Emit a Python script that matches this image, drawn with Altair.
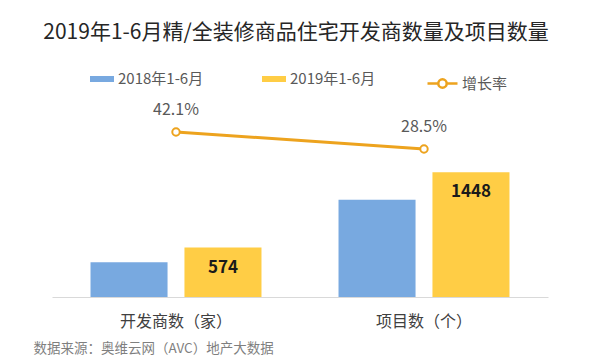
import altair as alt
import pandas as pd

# ---- data ----
categories = ["开发商数（家）", "项目数（个）"]
series = ["2018年1-6月", "2019年1-6月"]
values_2018 = [404, 1127]
values_2019 = [574, 1448]
growth_rates = [0.421, 0.285]
rate_name = "增长率"

title_text = "2019年1-6月精/全装修商品住宅开发商数量及项目数量"
source_text = "数据来源：奥维云网（AVC）地产大数据"

colors = ["#78A9E0", "#FFCD45"]
line_color = "#EDA31E"
FONT = "Noto Sans CJK SC"

rows = []
for i, c in enumerate(categories):
    rows.append({"category": c, "series": series[0], "value": values_2018[i]})
    rows.append({"category": c, "series": series[1], "value": values_2019[i]})
bars_df = pd.DataFrame(rows)
rate_df = pd.DataFrame({"category": categories, "rate": growth_rates, "name": [rate_name] * len(categories)})

x_enc = alt.X(
    "category:N",
    sort=categories,
    scale=alt.Scale(domain=categories, paddingInner=0, paddingOuter=0),
    axis=alt.Axis(
        title=source_text,
        titleFont=FONT,
        titleFontSize=13.5,
        titleFontWeight="normal",
        titleColor="#7F7F7F",
        titleAnchor="start",
        titleAlign="left",
        titleBaseline="middle",
        titleX=-19,
        titleY=51,
        labelFontSize=16,
        labelColor="#404040",
        labelPadding=16,
        labelAngle=0,
        ticks=False,
        domainColor="#D9D9D9",
        domainWidth=1,
        grid=False,
    ),
)
xoff_enc = alt.XOffset("series:N", sort=series, scale=alt.Scale(domain=series, paddingInner=0.18, paddingOuter=0.41))
y_bar_scale = alt.Scale(domain=[0, 2320], nice=False, zero=True)
y_rate_scale = alt.Scale(domain=[-0.899, 0.701], nice=False, zero=False)

bar_legend = alt.Legend(
    orient="none",
    legendX=38,
    legendY=-30,
    direction="horizontal",
    title=None,
    symbolType="M-1,-0.25H1V0.25H-1Z",
    symbolSize=576,
    symbolStrokeWidth=0,
    labelFontSize=15,
    labelFont=FONT,
    labelColor="#595959",
    labelOffset=4,
    columnPadding=58,
)

bars = alt.Chart(bars_df).mark_bar().encode(
    x=x_enc,
    xOffset=xoff_enc,
    y=alt.Y("value:Q", scale=y_bar_scale, axis=None),
    color=alt.Color("series:N", scale=alt.Scale(domain=series, range=colors), legend=bar_legend),
)

bar_labels = alt.Chart(bars_df).transform_filter(
    alt.datum.series == series[1]
).mark_text(fontSize=17, fontWeight="bold", color="#1A1A1A", baseline="middle", dy=20, font=FONT).encode(
    x=alt.X("category:N", sort=categories, scale=alt.Scale(domain=categories, paddingInner=0, paddingOuter=0)),
    xOffset=xoff_enc,
    y=alt.Y("value:Q", scale=y_bar_scale, axis=None),
    text=alt.Text("value:Q"),
)

line_legend = alt.Legend(
    orient="none",
    legendX=374,
    legendY=-30,
    direction="horizontal",
    title=None,
    symbolType="M-1,0H-0.28M0.28,0H1M-0.28,0A0.28,0.28,0,1,1,0.28,0A0.28,0.28,0,1,1,-0.28,0",
    symbolSize=900,
    symbolStrokeWidth=2.5,
    symbolFillColor="white",
    labelFontSize=15,
    labelFont=FONT,
    labelColor="#595959",
    labelOffset=3,
)

x_plain = alt.X("category:N", sort=categories, scale=alt.Scale(domain=categories, paddingInner=0, paddingOuter=0))

line = alt.Chart(rate_df).mark_line(strokeWidth=3).encode(
    x=x_plain,
    y=alt.Y("rate:Q", scale=y_rate_scale, axis=None),
    stroke=alt.Stroke("name:N", scale=alt.Scale(domain=[rate_name], range=[line_color]), legend=line_legend),
)

points = alt.Chart(rate_df).mark_point(filled=True, fill="white", stroke=line_color, strokeWidth=2, size=55, opacity=1, shape="circle").encode(
    x=x_plain,
    y=alt.Y("rate:Q", scale=y_rate_scale, axis=None),
)

rate_labels = alt.Chart(rate_df).mark_text(fontSize=16, color="#595959", baseline="middle", dy=-22, font=FONT).encode(
    x=x_plain,
    y=alt.Y("rate:Q", scale=y_rate_scale, axis=None),
    text=alt.Text("rate:Q", format=".1%"),
)

chart = alt.layer(bars, bar_labels, line, points, rate_labels).resolve_scale(
    y="independent"
).properties(
    width=496,
    height=200,
    autosize=alt.AutoSizeParams(type="none"),
    padding={"left": 44, "top": 89, "right": 44, "bottom": 58},
    background="white",
    title=alt.TitleParams(
        text=title_text,
        font=FONT,
        fontSize=21,
        fontWeight="normal",
        color="#262626",
        anchor="middle",
        frame="group",
        offset=24,
        dx=-4,
    ),
).configure(font=FONT).configure_view(stroke=None)

chart.save("out.html", embed_options={"renderer": "svg", "actions": False})
